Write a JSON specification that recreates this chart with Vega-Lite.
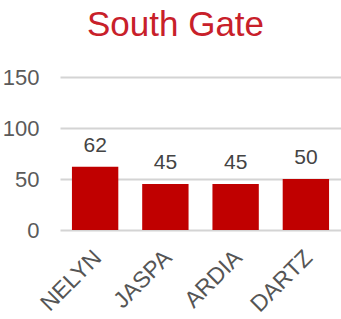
{
  "$schema": "https://vega.github.io/schema/vega-lite/v6.json",
  "width": 281,
  "height": 153,
  "padding": {"left": 2, "top": 8, "right": 0, "bottom": 0},
  "background": "white",
  "title": {"text": "South Gate", "color": "#c8202a", "font": "Liberation Sans", "fontSize": 35, "fontWeight": "normal", "anchor": "middle", "offset": 23, "dx": -25},
  "data": {"values": [
    {"name": "NELYN", "value": 62},
    {"name": "JASPA", "value": 45},
    {"name": "ARDIA", "value": 45},
    {"name": "DARTZ", "value": 50}
  ]},
  "encoding": {
    "x": {"field": "name", "type": "nominal", "sort": null, "title": null,
      "scale": {"paddingInner": 0.34, "paddingOuter": 0.17},
      "axis": {"labelAngle": -45, "labelFont": "Liberation Sans", "labelFontSize": 23, "labelColor": "#555555", "ticks": false, "domain": false, "labelPadding": 16, "labelOffset": -5}},
    "y": {"field": "value", "type": "quantitative", "title": null,
      "scale": {"domain": [0, 150]},
      "axis": {"values": [0, 50, 100, 150], "labelFont": "Liberation Sans", "labelFontSize": 22, "labelColor": "#5a5a5a", "ticks": false, "domain": false, "labelPadding": 21, "gridColor": "#d4d4d4", "gridWidth": 2}}
  },
  "layer": [
    {"mark": {"type": "bar", "color": "#c00000"}},
    {"mark": {"type": "text", "baseline": "alphabetic", "dy": -15, "font": "Liberation Sans", "fontSize": 21, "color": "#444444"},
     "encoding": {"text": {"field": "value", "type": "quantitative"}}}
  ],
  "config": {"view": {"stroke": null}}
}
